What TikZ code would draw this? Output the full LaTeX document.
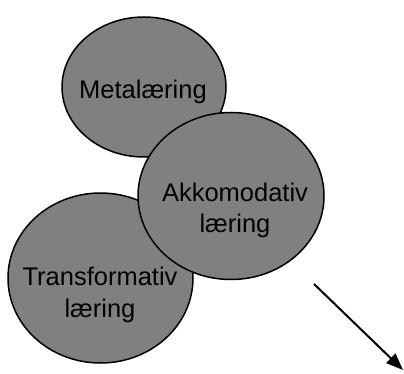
\documentclass[tikz,border=0pt]{standalone}
\usepackage{fontspec}
\setmainfont{Liberation Sans}
\usetikzlibrary{shapes.geometric,arrows.meta}
\tikzset{
  bubble/.style={ellipse, draw=black, fill=gray50, line width=1.5pt, inner sep=0pt},
  lbl/.style={anchor=base, inner sep=0pt, font=\fontsize{25.5}{32}\selectfont},
}
\definecolor{gray50}{HTML}{808080}
\begin{document}
\begin{tikzpicture}[x=1pt,y=-1pt]
\useasboundingbox (0,0) rectangle (404,374);
\node[bubble, minimum width=164pt, minimum height=140pt] (meta) at (144,87) {};
\node[bubble, minimum width=185pt, minimum height=170pt] (trans) at (100.5,278) {};
\node[bubble, minimum width=186pt, minimum height=167pt] (akko) at (231,196) {};
\node[lbl] (metat) at (143,99) {Metalæring};
\node[lbl] (akkot1) at (235,201) {Akkomodativ};
\node[lbl] (akkot2) at (235,233) {læring};
\node[lbl] (transt1) at (100,285) {Transformativ};
\node[lbl] (transt2) at (100,317) {læring};
\coordinate (a1) at (314,284);
\coordinate (a2) at (403,370);
\draw[line width=2pt, -{Triangle[length=17pt,width=13pt]}] (a1) -- (a2);
\end{tikzpicture}
\end{document}
